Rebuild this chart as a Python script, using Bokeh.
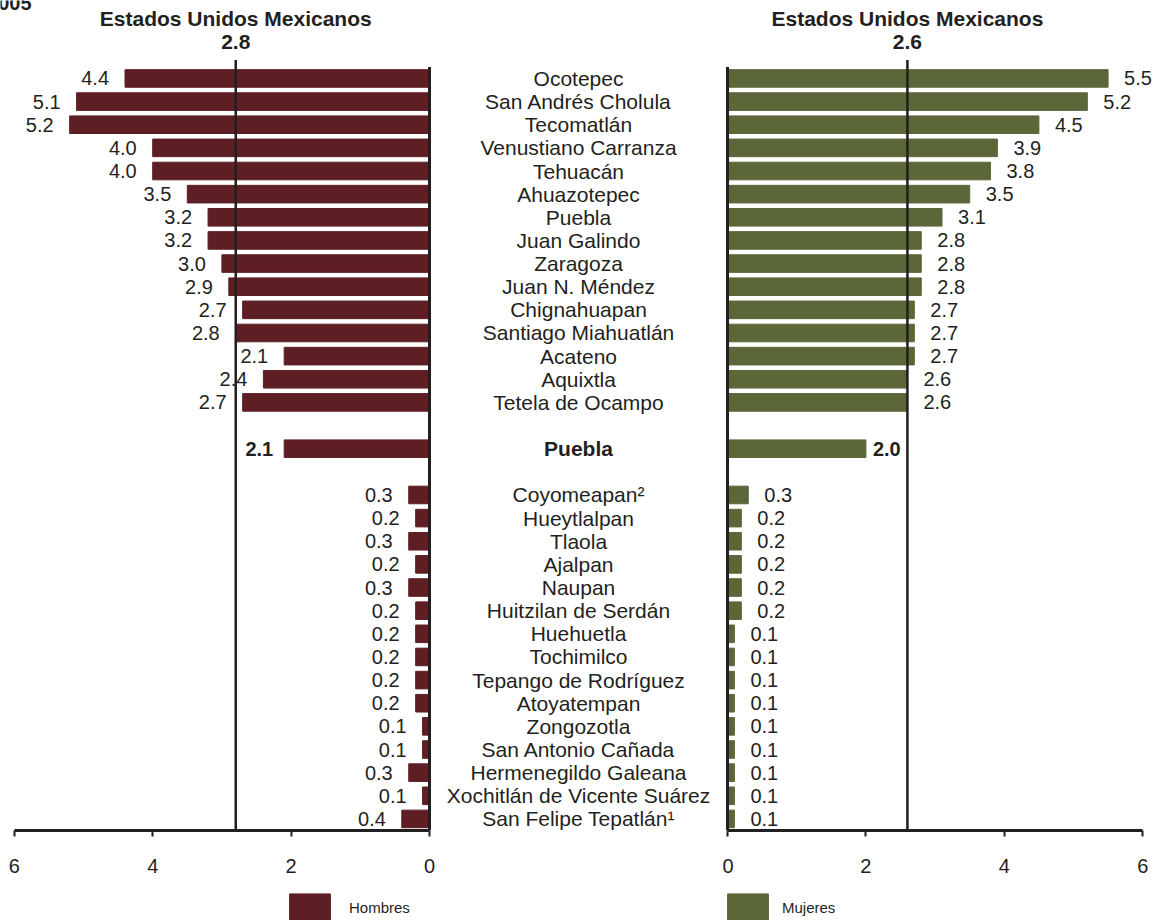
from bokeh.plotting import figure
from bokeh.models import ColumnDataSource, Range1d, FixedTicker, Legend, LegendItem
from bokeh.layouts import row, column
from bokeh.embed import file_html
from bokeh.resources import INLINE
from bokeh.core.properties import value

# ---------------- data ----------------
municipios_top = ["Ocotepec", "San Andrés Cholula", "Tecomatlán", "Venustiano Carranza",
                  "Tehuacán", "Ahuazotepec", "Puebla", "Juan Galindo", "Zaragoza",
                  "Juan N. Méndez", "Chignahuapan", "Santiago Miahuatlán", "Acateno",
                  "Aquixtla", "Tetela de Ocampo"]
hombres_top = [4.4, 5.1, 5.2, 4.0, 4.0, 3.5, 3.2, 3.2, 3.0, 2.9, 2.7, 2.8, 2.1, 2.4, 2.7]
mujeres_top = [5.5, 5.2, 4.5, 3.9, 3.8, 3.5, 3.1, 2.8, 2.8, 2.8, 2.7, 2.7, 2.7, 2.6, 2.6]

estado = "Puebla"
hombres_estado = 2.1
mujeres_estado = 2.0

municipios_bottom = ["Coyomeapan²", "Hueytlalpan", "Tlaola", "Ajalpan", "Naupan",
                     "Huitzilan de Serdán", "Huehuetla", "Tochimilco", "Tepango de Rodríguez",
                     "Atoyatempan", "Zongozotla", "San Antonio Cañada", "Hermenegildo Galeana",
                     "Xochitlán de Vicente Suárez", "San Felipe Tepatlán¹"]
hombres_bottom = [0.3, 0.2, 0.3, 0.2, 0.3, 0.2, 0.2, 0.2, 0.2, 0.2, 0.1, 0.1, 0.3, 0.1, 0.4]
mujeres_bottom = [0.3, 0.2, 0.2, 0.2, 0.2, 0.2, 0.1, 0.1, 0.1, 0.1, 0.1, 0.1, 0.1, 0.1, 0.1]

nacional_hombres = 2.8
nacional_mujeres = 2.6
nacional_titulo = "Estados Unidos Mexicanos"
axis_ticks = [0, 2, 4, 6]
anio = "2005"
series_names = ["Hombres", "Mujeres"]

# ---------------- style / layout ----------------
FONT = "Liberation Sans"
TXT = "#231F20"
MAROON = "#5E1F24"
GREEN = "#5B6739"

W_LEFT, W_RIGHT = 722, 432
H_MAIN = 890
H_LEG = 30
FRAME_BOTTOM = 60   # frame ends at px 830
UNIT = 69.2         # px per value unit
ZERO_L = 429        # px of value 0 in left figure
ZERO_R = 5          # px of value 0 in right figure
ROW_H = 23.14
ROW0 = 78
LABEL_PX = 578
BAR_H = 0.76

n_top = len(municipios_top)
y_top_rows = list(range(n_top))
y_estado = n_top + 1
y_bottom_rows = [y_estado + 2 + i for i in range(len(municipios_bottom))]
y_end = y_bottom_rows[-1] + 0.5
y_start = y_end - (H_MAIN - FRAME_BOTTOM) / ROW_H

ys = y_top_rows + y_bottom_rows
names = municipios_top + municipios_bottom
hom = hombres_top + hombres_bottom
muj = mujeres_top + mujeres_bottom


def fmt(v):
    return f"{v:.1f}"


def make_fig(width, xr):
    p = figure(width=width, height=H_MAIN, output_backend="svg", toolbar_location=None,
               x_range=xr, y_range=Range1d(y_end, y_start),
               min_border_left=0, min_border_right=0, min_border_top=0,
               min_border_bottom=FRAME_BOTTOM, y_axis_location=None,
               outline_line_color=None, background_fill_color="white",
               border_fill_color="white")
    p.grid.visible = False
    ax = p.xaxis[0]
    ax.bounds = (0, 6)
    ax.ticker = FixedTicker(ticks=axis_ticks)
    ax.axis_line_width = 3
    ax.axis_line_color = TXT
    ax.major_tick_line_width = 2
    ax.major_tick_line_color = TXT
    ax.major_tick_out = 6
    ax.major_tick_in = 0
    ax.minor_tick_line_color = None
    ax.major_label_text_font = FONT
    ax.major_label_text_font_size = "20px"
    ax.major_label_text_color = TXT
    ax.major_label_standoff = 22
    return p


def common(p, values, val_est, nacional, color, sign):
    src = ColumnDataSource(dict(y=ys, v=values, lbl=[fmt(v) for v in values]))
    src_e = ColumnDataSource(dict(y=[y_estado], v=[val_est], lbl=[fmt(val_est)]))
    p.hbar(y="y", left=0, right="v", height=BAR_H, color=color, source=src)
    p.hbar(y="y", left=0, right="v", height=BAR_H, color=color, source=src_e)
    align = "right" if sign < 0 else "left"
    p.text(x="v", y="y", text="lbl", source=src, x_offset=16 * sign, text_align=align,
           text_baseline="middle", text_font=value(FONT), text_font_size="20px",
           text_color=TXT)
    p.text(x="v", y="y", text="lbl", source=src_e, x_offset=(11 if sign < 0 else 7) * sign,
           text_align=align, text_baseline="middle", text_font=value(FONT),
           text_font_size="20px", text_font_style="bold", text_color=TXT)
    # zero line and national reference line
    p.segment(x0=[0], y0=[-0.5], x1=[0], y1=[y_end], line_width=3, line_color=TXT)
    p.segment(x0=[nacional], y0=[-0.8], x1=[nacional], y1=[y_end], line_width=2.5,
              line_color=TXT)
    p.text(x=[nacional, nacional], y=[-2.6, -1.56], text=[nacional_titulo, fmt(nacional)],
           text_align="center", text_baseline="middle", text_font=value(FONT),
           text_font_size="21px", text_font_style="bold", text_color=TXT)


# left figure (Hombres + municipality names)
pl = make_fig(W_LEFT, Range1d(ZERO_L / UNIT, -(W_LEFT - ZERO_L) / UNIT))
common(pl, hom, hombres_estado, nacional_hombres, MAROON, -1)
label_x = -(LABEL_PX - ZERO_L) / UNIT
pl.text(x=label_x, y="y", text="name", source=ColumnDataSource(dict(y=ys, name=names)),
        text_align="center", text_baseline="middle", text_font=value(FONT),
        text_font_size="21px", text_color=TXT)
pl.text(x=[label_x], y=[y_estado], text=[estado], text_align="center",
        text_baseline="middle", text_font=value(FONT), text_font_size="21px",
        text_font_style="bold", text_color=TXT)
pl.text(x=[(ZERO_L - 31) / UNIT], y=[(3 - ROW0) / ROW_H], text=[anio], text_align="right",
        text_baseline="alphabetic", text_font=value(FONT), text_font_size="20px",
        text_font_style="bold", text_color=TXT)

# right figure (Mujeres)
pr = make_fig(W_RIGHT, Range1d(-ZERO_R / UNIT, (W_RIGHT - ZERO_R) / UNIT))
common(pr, muj, mujeres_estado, nacional_mujeres, GREEN, 1)

# legend strip (swatch renderers sit outside the strip's visible range)
lf = figure(width=W_LEFT + W_RIGHT, height=H_LEG, output_backend="svg",
            toolbar_location=None, x_range=Range1d(0, 1), y_range=Range1d(0, 1),
            min_border=0, outline_line_color=None, x_axis_location=None,
            y_axis_location=None, background_fill_color="white",
            border_fill_color="white")
lf.grid.visible = False
leg_x = [ZERO_L - 145, W_LEFT + ZERO_R - 5]
leg_standoff = [14, 9]
for name, color, lx, so in zip(series_names, [MAROON, GREEN], leg_x, leg_standoff):
    r = lf.hbar(y=[-5], left=[0], right=[1], height=BAR_H, color=color)
    leg = Legend(items=[LegendItem(label=name, renderers=[r])], location=(lx, -4),
                 orientation="horizontal", glyph_width=51, glyph_height=34,
                 label_standoff=so, padding=0, margin=0, spacing=0,
                 border_line_color=None, background_fill_alpha=0,
                 label_text_font=FONT, label_text_font_size="15px",
                 label_text_color=TXT)
    lf.add_layout(leg)

layout = column(row(pl, pr, spacing=0), lf, spacing=0)

with open("out.html", "w") as f:
    f.write(file_html(layout, INLINE))
